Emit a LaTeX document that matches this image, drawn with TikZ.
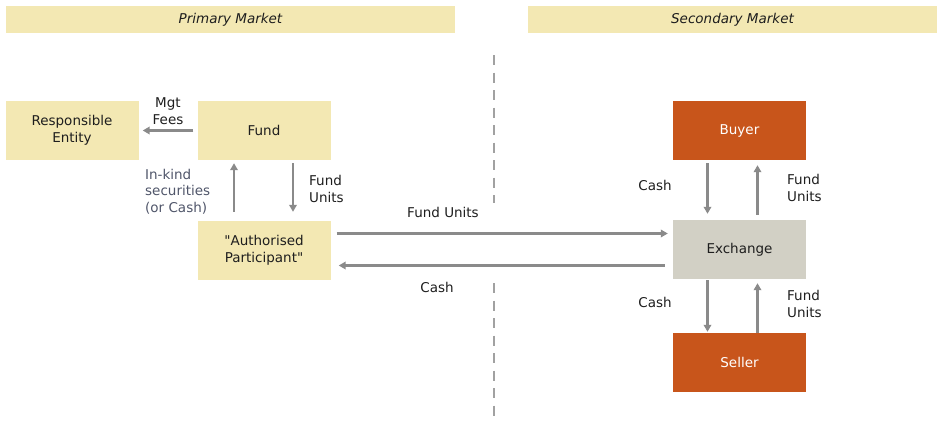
\documentclass[tikz,border=0pt]{standalone}
\usepackage{fontspec}
\setmainfont{DejaVu Sans}[Ligatures=TeXOff]
\usetikzlibrary{arrows.meta}
\definecolor{tan}{HTML}{F3E8B3}
\definecolor{rust}{HTML}{C8551B}
\definecolor{stone}{HTML}{D2D0C5}
\definecolor{flow}{HTML}{8A8A8A}
\definecolor{ink}{HTML}{1E1E1E}
\definecolor{slate}{HTML}{50566A}
\newcommand{\txt}{\fontsize{13.5pt}{16.5pt}\selectfont}
\tikzset{
  party/.style={rectangle, fill=tan, text=ink, minimum width=133pt, minimum height=59pt, inner sep=0pt, align=center},
  trader/.style={party, fill=rust, text=white},
  banner/.style={rectangle, fill=tan, text=ink, minimum height=27pt, inner sep=0pt, font=\txt\itshape},
  flowarrow/.style={draw=flow, line width=2.2pt, -{Triangle[length=7pt,width=7.5pt]}},
  lbl/.style={text=ink, align=center, inner sep=0pt},
}
\begin{document}
\begin{tikzpicture}[x=1pt, y=-1pt, node distance=120pt, font=\txt]
 \useasboundingbox (0,0) rectangle (937,423);

 \node[banner, minimum width=449pt] (prim) at (230.5,19.5) {Primary Market};
 \node[banner, minimum width=409pt] (sec) at (732.5,19.5) {Secondary Market};

 \node[party] (Fund) at (264,130.5) {Fund};
 \node[party] (RE) [left of=Fund, node distance=192pt] {Responsible\\Entity};
 \node[party] (AP) [below of=Fund] {"Authorised\\Participant"};
 \node[trader] (Buyer) at (739.5,130.5) {Buyer};
 \node[party, fill=stone] (Exch) [below of=Buyer, node distance=119pt] {Exchange};
 \node[trader] (Seller) [below of=Exch, node distance=113pt] {Seller};

 % market divide
 \coordinate (divtop) at (494,55);
 \coordinate (divmid) at (494,203);
 \coordinate (divlow) at (494,283);
 \coordinate (divend) at (494,421);
 \draw[flow!80, line width=2pt, dash pattern=on 10pt off 7.5pt] (divtop) -- (divmid);
 \draw[flow!80, line width=2pt, dash pattern=on 10pt off 7.5pt] (divlow) -- (divend);

 % primary market
 \draw[flowarrow, shorten <=4pt, shorten >=4pt] (Fund) -- (RE);
 \draw[flowarrow, shorten <=9pt, shorten >=3pt] ([xshift=-30pt]AP.north) -- ([xshift=-30pt]Fund.south);
 \draw[flowarrow, shorten <=3pt, shorten >=9pt] ([xshift=29pt]Fund.south) -- ([xshift=29pt]AP.north);

 \node[lbl] (mgt) at (168,111) {Mgt\\Fees};
 \node[lbl, anchor=west, align=left, text=slate] (inkind) at (145,191.5) {In-kind\\securities\\(or Cash)};
 \node[lbl, anchor=west, align=left] (apunits) at (309,189) {Fund\\Units};

 % across the divide
 \draw[flowarrow, shorten <=6pt, shorten >=5pt] ([yshift=17pt]AP.east) -- ([yshift=17pt]AP.east -| Exch.west);
 \draw[flowarrow, shorten <=8pt, shorten >=8pt] ([yshift=-16pt]Exch.west) -- ([yshift=-16pt]Exch.west -| AP.east);

 \node[lbl] (xunits) at (443,212) {Fund Units};
 \node[lbl] (xcash) at (437,287) {Cash};

 % secondary market
 \draw[flowarrow, shorten <=3pt, shorten >=6pt] ([xshift=-32pt]Buyer.south) -- ([xshift=-32pt]Exch.north);
 \draw[flowarrow, shorten <=5pt, shorten >=5pt] ([xshift=18pt]Exch.north) -- ([xshift=18pt]Buyer.south);
 \draw[flowarrow, shorten <=1pt, shorten >=1pt] ([xshift=-32pt]Exch.south) -- ([xshift=-32pt]Seller.north);
 \draw[flowarrow, shorten <=0pt, shorten >=4pt] ([xshift=18pt]Seller.north) -- ([xshift=18pt]Exch.south);

 \node[lbl] (bcash) at (655,185) {Cash};
 \node[lbl, anchor=west, align=left] (bunits) at (787,188) {Fund\\Units};
 \node[lbl] (scash) at (655,302) {Cash};
 \node[lbl, anchor=west, align=left] (sunits) at (787,304) {Fund\\Units};
\end{tikzpicture}
\end{document}
